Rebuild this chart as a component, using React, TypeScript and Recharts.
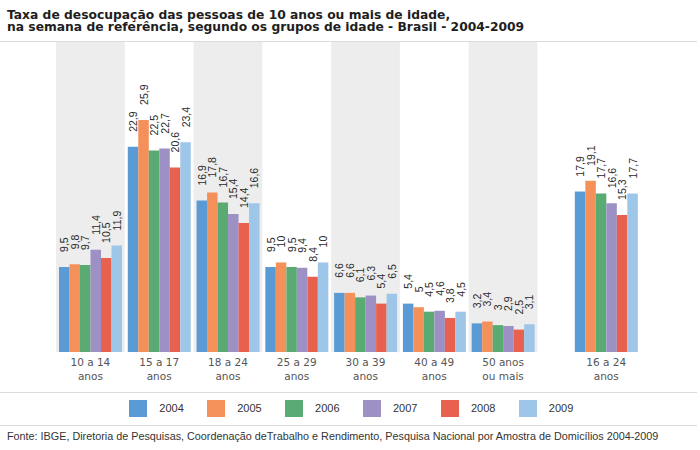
import React from 'react';
import { BarChart, Bar, XAxis, YAxis, ReferenceArea, LabelList } from 'recharts';

// age groups, two text lines each (the last one is the summary group, set apart)
const ageLine1 = ['10 a 14', '15 a 17', '18 a 24', '25 a 29', '30 a 39', '40 a 49', '50 anos', '16 a 24'];
const ageLine2 = ['anos', 'anos', 'anos', 'anos', 'anos', 'anos', 'ou mais', 'anos'];

const years = ['2004', '2005', '2006', '2007', '2008', '2009'];
const rate2004 = [9.5, 22.9, 16.9, 9.5, 6.6, 5.4, 3.2, 17.9];
const rate2005 = [9.8, 25.9, 17.8, 10, 6.6, 5, 3.4, 19.1];
const rate2006 = [9.7, 22.5, 16.7, 9.5, 6.1, 4.5, 3, 17.7];
const rate2007 = [11.4, 22.7, 15.4, 9.4, 6.3, 4.6, 2.9, 16.6];
const rate2008 = [10.5, 20.6, 14.4, 8.4, 5.4, 3.8, 2.5, 15.3];
const rate2009 = [11.9, 23.4, 16.6, 10, 6.5, 4.5, 3.1, 17.7];

const seriesValues = [rate2004, rate2005, rate2006, rate2007, rate2008, rate2009];
const seriesColors = ['#5b9bd5', '#f4915b', '#5aab73', '#9c90c4', '#e8614e', '#9ec6e8'];

const W = 700;
const H = 450;
const PLOT_TOP = 42;
const PLOT_BOTTOM = 352;
const PLOT_LEFT = 56;
const PLOT_RIGHT = 675;
const AXIS_H = 30;
const Y_MAX = 34.6;

// x position of each group on a numeric axis: one unit per slot,
// the summary group (last) gets an extra half slot of space before it
const slotOf = (i: number) => (i === ageLine1.length - 1 ? i + 1 : i + 0.5);
const slots = ageLine1.map((_, i) => slotOf(i));

const data = ageLine1.map((_, i) => {
  const row: any = { x: slotOf(i) };
  years.forEach((y, s) => {
    row[y] = seriesValues[s][i];
  });
  return row;
});

const fmt = (v: number) => String(v).replace('.', ',');

const LABEL_FONT = '"Liberation Sans", Arial, sans-serif';
const TEXT_FONT = '"DejaVu Sans", Tahoma, sans-serif';

const BarValueLabel = (props: any) => {
  const { x, y, width, value } = props;
  const cx = x + width / 2;
  const cy = y - 15;
  return (
    <text
      x={cx}
      y={cy}
      transform={`rotate(-90 ${cx} ${cy})`}
      textAnchor="start"
      dominantBaseline="central"
      fontSize={10.5}
      fontFamily={LABEL_FONT}
      fill="#2a2a2a"
    >
      {fmt(value)}
    </text>
  );
};

const AgeTick = (props: any) => {
  const { x, payload } = props;
  const idx = slots.indexOf(payload.value);
  if (idx < 0) return null;
  return (
    <text textAnchor="middle" fontSize={10.5} fontFamily={TEXT_FONT} fill="#555">
      <tspan x={x} y={PLOT_BOTTOM + 14}>{ageLine1[idx]}</tspan>
      <tspan x={x} y={PLOT_BOTTOM + 28}>{ageLine2[idx]}</tspan>
    </text>
  );
};

const hr = (top: number) => (
  <div style={{ position: 'absolute', left: 0, top, width: 697, height: 1, background: '#dcdcdc' }} />
);

export default function App() {
  return (
    <div style={{ position: 'absolute', left: 0, top: 0, width: W, height: H, background: '#fff', overflow: 'hidden' }}>
      <div
        style={{
          position: 'absolute',
          left: 7,
          top: 8.5,
          fontFamily: '"DejaVu Sans", Tahoma, sans-serif',
          fontWeight: 'bold',
          fontSize: 12.3,
          lineHeight: '12.5px',
          color: '#1e1e1e',
          whiteSpace: 'nowrap',
        }}
      >
        Taxa de desocupação das pessoas de 10 anos ou mais de idade,
        <br />
        na semana de referência, segundo os grupos de idade - Brasil - 2004-2009
      </div>

      {hr(PLOT_TOP - 1)}

      <div style={{ position: 'absolute', left: 0, top: 0 }}>
        <BarChart
          width={W}
          height={H}
          data={data}
          barGap={0}
          margin={{ top: PLOT_TOP, right: W - PLOT_RIGHT, bottom: H - PLOT_BOTTOM - AXIS_H, left: PLOT_LEFT }}
        >
          <XAxis
            type="number"
            dataKey="x"
            domain={[0, 9]}
            ticks={slots}
            interval={0}
            tick={<AgeTick />}
            axisLine={false}
            tickLine={false}
            height={AXIS_H}
            allowDataOverflow
          />
          <YAxis type="number" domain={[0, Y_MAX]} hide allowDataOverflow />
          {[0, 2, 4, 6].map((s) => (
            <ReferenceArea key={s} x1={s} x2={s + 1} y1={0} y2={Y_MAX} fill="#ededed" fillOpacity={1} stroke="none" />
          ))}
          {years.map((y, s) => (
            <Bar key={y} dataKey={y} fill={seriesColors[s]} barSize={10.5} isAnimationActive={false}>
              <LabelList dataKey={y} content={<BarValueLabel />} />
            </Bar>
          ))}
        </BarChart>
      </div>

      {hr(392)}
      {years.map((y, s) => (
        <div key={y} style={{ position: 'absolute', left: 129.3 + s * 77.9, top: 400 }}>
          <div style={{ position: 'absolute', left: 0, top: 0, width: 18, height: 17, background: seriesColors[s] }} />
          <div
            style={{
              position: 'absolute',
              left: 30,
              top: 2,
              fontFamily: '"Liberation Sans", Arial, sans-serif',
              fontSize: 11,
              lineHeight: '13px',
              color: '#333',
            }}
          >
            {y}
          </div>
        </div>
      ))}
      {hr(425)}

      <div
        style={{
          position: 'absolute',
          left: 7,
          top: 430,
          fontFamily: '"Liberation Sans", Arial, sans-serif',
          fontSize: 10.8,
          lineHeight: '12px',
          color: '#333',
          whiteSpace: 'nowrap',
        }}
      >
        Fonte: IBGE, Diretoria de Pesquisas, Coordenação deTrabalho e Rendimento, Pesquisa Nacional por Amostra de Domicílios 2004-2009
      </div>
    </div>
  );
}
